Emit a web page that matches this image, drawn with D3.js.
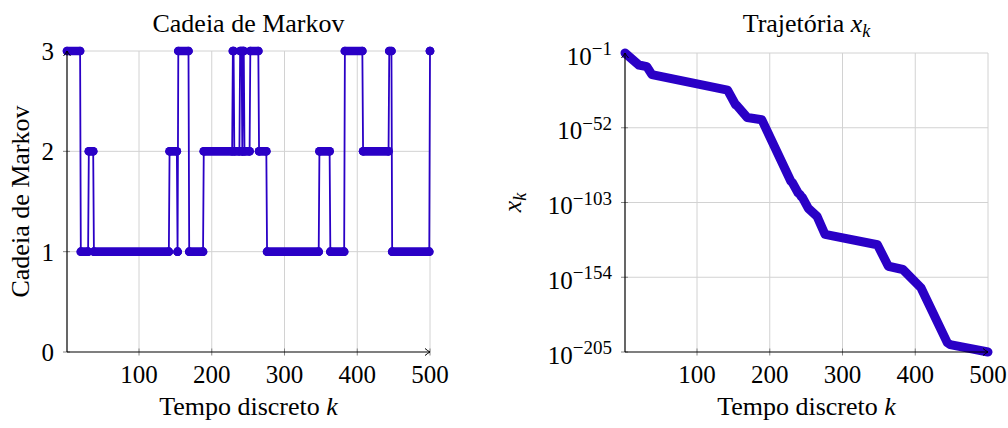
<!DOCTYPE html>
<html><head><meta charset="utf-8">
<script src="https://cdn.jsdelivr.net/npm/d3@7/dist/d3.min.js"></script>
<style>
body{margin:0;background:#fff}
svg{display:block}
text{font-family:"Liberation Serif","Times New Roman",serif;fill:#000}
</style>
</head><body>
<svg id="c" width="1008" height="428"></svg>
<script>
// ---------- data ----------
const kTicks = [100, 200, 300, 400, 500];
const stateTicks = [0, 1, 2, 3];
// Markov chain: value of the state from each start k until the next start
const runStartK = [1, 20, 31, 38, 142, 153, 154, 169, 189, 229, 231, 239, 242, 243, 245, 253, 265, 276, 348, 363, 383, 408, 444, 448, 500];
const runState  = [3, 1, 2, 1, 2, 1, 3, 1, 2, 3, 2, 3, 2, 3, 2, 3, 2, 1, 2, 1, 3, 2, 3, 1, 3];
// trajectory x_k: breakpoints (k, log10 x_k)
const trajK   = [1, 20, 31, 38, 142, 153, 154, 169, 189, 229, 231, 239, 242, 243, 245, 253, 265, 276, 348, 363, 383, 408, 444, 448, 500];
const trajExp = [-1, -9.2, -10.3, -15.8, -26.3, -36.3, -36.4, -45.0, -46.5, -88.5, -89.4, -96.5, -97.8, -98.8, -99.7, -107.0, -112.5, -124.8, -131.8, -146.5, -148.7, -161.3, -198.6, -200.0, -205];
const logTickExp = [-1, -52, -103, -154, -205];
const leftTitle = "Cadeia de Markov";
const leftYLabel = "Cadeia de Markov";
const xLabel = "Tempo discreto ";

// ---------- style ----------
const BLUE = "#2a00c6";
const GRID = "#d2d2d2";
const svg = d3.select("#c");

function arrowUp(g, x, y) {
  g.append("path").attr("d", `M${x-3.5},${y+5} Q${x-1},${y+2} ${x},${y} Q${x+1},${y+2} ${x+3.5},${y+5}`)
    .attr("fill", "none").attr("stroke", "#000").attr("stroke-width", 1);
}
function arrowRight(g, x, y) {
  g.append("path").attr("d", `M${x-5},${y-3.5} Q${x-2},${y-1} ${x},${y} Q${x-2},${y+1} ${x-5},${y+3.5}`)
    .attr("fill", "none").attr("stroke", "#000").attr("stroke-width", 1);
}
function kLabel(g, cx, y) {
  const t = g.append("text").attr("x", cx).attr("y", y).attr("text-anchor", "middle").style("font-size", "26px");
  t.append("tspan").text(xLabel);
  t.append("tspan").style("font-style", "italic").text("k");
}

// ---------- left panel ----------
const xL = d3.scaleLinear().domain([1, 500]).range([67, 430]);
const yL = d3.scaleLinear().domain([0, 3]).range([352, 51]);
const gL = svg.append("g");

gL.selectAll(".vg").data(kTicks).join("line")
  .attr("x1", d => xL(d)).attr("x2", d => xL(d)).attr("y1", yL(0)).attr("y2", yL(3))
  .attr("stroke", GRID).attr("stroke-width", 1);
gL.selectAll(".hg").data(stateTicks.filter(d => d > 0)).join("line")
  .attr("x1", xL(1)).attr("x2", xL(500)).attr("y1", d => yL(d)).attr("y2", d => yL(d))
  .attr("stroke", GRID).attr("stroke-width", 1);

// ticks
gL.selectAll(".xt").data(kTicks).join("line")
  .attr("x1", d => xL(d)).attr("x2", d => xL(d)).attr("y1", yL(0) - 3.5).attr("y2", yL(0) + 3.5)
  .attr("stroke", "#777").attr("stroke-width", 0.9);
gL.selectAll(".yt").data(stateTicks).join("line")
  .attr("x1", xL(1) - 4).attr("x2", xL(1) + 3).attr("y1", d => yL(d)).attr("y2", d => yL(d))
  .attr("stroke", "#777").attr("stroke-width", 0.9);

// data
const runs = runStartK.map((k, i) => ({ k0: k, k1: i < runStartK.length - 1 ? runStartK[i + 1] - 1 : 500, s: runState[i] }));
const linePts = [];
runs.forEach(r => { linePts.push([r.k0, r.s]); if (r.k1 !== r.k0) linePts.push([r.k1, r.s]); });
gL.append("path").datum(linePts)
  .attr("d", d3.line().x(d => xL(d[0])).y(d => yL(d[1])))
  .attr("fill", "none").attr("stroke", BLUE).attr("stroke-width", 1.8);
gL.selectAll(".bar").data(runs).join("line")
  .attr("x1", d => xL(d.k0)).attr("x2", d => xL(d.k1)).attr("y1", d => yL(d.s)).attr("y2", d => yL(d.s))
  .attr("stroke", BLUE).attr("stroke-width", 8.6).attr("stroke-linecap", "round");
gL.selectAll(".cap").data(runs.flatMap(r => [[r.k0, r.s], [r.k1, r.s]])).join("circle")
  .attr("cx", d => xL(d[0])).attr("cy", d => yL(d[1])).attr("r", 4.3).attr("fill", BLUE);

// axes
gL.append("line").attr("x1", xL(1)).attr("x2", xL(1)).attr("y1", yL(0)).attr("y2", yL(3))
  .attr("stroke", "#000").attr("stroke-width", 1.2);
gL.append("line").attr("x1", xL(1)).attr("x2", xL(500)).attr("y1", yL(0)).attr("y2", yL(0))
  .attr("stroke", "#000").attr("stroke-width", 1.2);
arrowUp(gL, xL(1), yL(3));
arrowRight(gL, xL(500), yL(0));

gL.selectAll(".xl").data(kTicks).join("text")
  .attr("x", d => xL(d)).attr("y", 383).attr("text-anchor", "middle").style("font-size", "25px").text(d => d);
gL.selectAll(".yl").data(stateTicks).join("text")
  .attr("x", 54).attr("y", d => yL(d) + 9).attr("text-anchor", "end").style("font-size", "25px").text(d => d);

gL.append("text").attr("x", (xL(1) + xL(500)) / 2).attr("y", 32).attr("text-anchor", "middle")
  .style("font-size", "26px").text(leftTitle);
kLabel(gL, (xL(1) + xL(500)) / 2, 415);
gL.append("text").attr("transform", `translate(29,${(yL(0) + yL(3)) / 2}) rotate(-90)`)
  .attr("text-anchor", "middle").style("font-size", "26px").text(leftYLabel);

// ---------- right panel ----------
const xR = d3.scaleLinear().domain([1, 500]).range([625, 988]);
const yR = d3.scaleLog().domain([1e-205, 1e-1]).range([352, 53]);
const gR = svg.append("g");
const logTicks = logTickExp.map(e => Math.pow(10, e));

gR.selectAll(".vg").data(kTicks).join("line")
  .attr("x1", d => xR(d)).attr("x2", d => xR(d)).attr("y1", yR(1e-205)).attr("y2", yR(1e-1))
  .attr("stroke", GRID).attr("stroke-width", 1);
gR.selectAll(".hg").data(logTicks.slice(0, -1)).join("line")
  .attr("x1", xR(1)).attr("x2", xR(500)).attr("y1", d => yR(d)).attr("y2", d => yR(d))
  .attr("stroke", GRID).attr("stroke-width", 1);
gR.selectAll(".xt").data(kTicks).join("line")
  .attr("x1", d => xR(d)).attr("x2", d => xR(d)).attr("y1", yR(1e-205) - 3.5).attr("y2", yR(1e-205) + 3.5)
  .attr("stroke", "#777").attr("stroke-width", 0.9);
gR.selectAll(".yt").data(logTicks).join("line")
  .attr("x1", xR(1) - 4).attr("x2", xR(1) + 3).attr("y1", d => yR(d)).attr("y2", d => yR(d))
  .attr("stroke", "#777").attr("stroke-width", 0.9);

gR.append("path").datum(trajK.map((k, i) => [k, Math.pow(10, trajExp[i])]))
  .attr("d", d3.line().x(d => xR(d[0])).y(d => yR(d[1])))
  .attr("fill", "none").attr("stroke", BLUE).attr("stroke-width", 9)
  .attr("stroke-linecap", "round").attr("stroke-linejoin", "round");

gR.append("line").attr("x1", xR(1)).attr("x2", xR(1)).attr("y1", yR(1e-205)).attr("y2", yR(1e-1))
  .attr("stroke", "#000").attr("stroke-width", 1.2);
gR.append("line").attr("x1", xR(1)).attr("x2", xR(500)).attr("y1", yR(1e-205)).attr("y2", yR(1e-205))
  .attr("stroke", "#000").attr("stroke-width", 1.2);
arrowUp(gR, xR(1), yR(1e-1));
arrowRight(gR, xR(500), yR(1e-205));

gR.selectAll(".xl").data(kTicks).join("text")
  .attr("x", d => xR(d)).attr("y", 383).attr("text-anchor", "middle").style("font-size", "25px").text(d => d);
const yl = gR.selectAll(".yl").data(logTicks).join("text")
  .attr("x", 612).attr("y", d => yR(d) + 11.5).attr("text-anchor", "end").style("font-size", "25px");
yl.append("tspan").text("10");
yl.append("tspan").attr("dy", -9.5).style("font-size", "19px").text(d => "\u2212" + Math.abs(Math.round(Math.log10(d))));

const tR = gR.append("text").attr("x", (xR(1) + xR(500)) / 2).attr("y", 32).attr("text-anchor", "middle").style("font-size", "26px");
tR.append("tspan").text("Trajetória ");
tR.append("tspan").style("font-style", "italic").text("x");
tR.append("tspan").attr("dy", 5).style("font-style", "italic").style("font-size", "18px").text("k");
kLabel(gR, (xR(1) + xR(500)) / 2, 415);
const yLR = gR.append("text").attr("transform", `translate(521,${(yR(1e-205) + yR(1e-1)) / 2}) rotate(-90)`)
  .attr("text-anchor", "middle").style("font-size", "26px");
yLR.append("tspan").style("font-style", "italic").text("x");
yLR.append("tspan").attr("dy", 5).style("font-style", "italic").style("font-size", "18px").text("k");
</script>
</body></html>
